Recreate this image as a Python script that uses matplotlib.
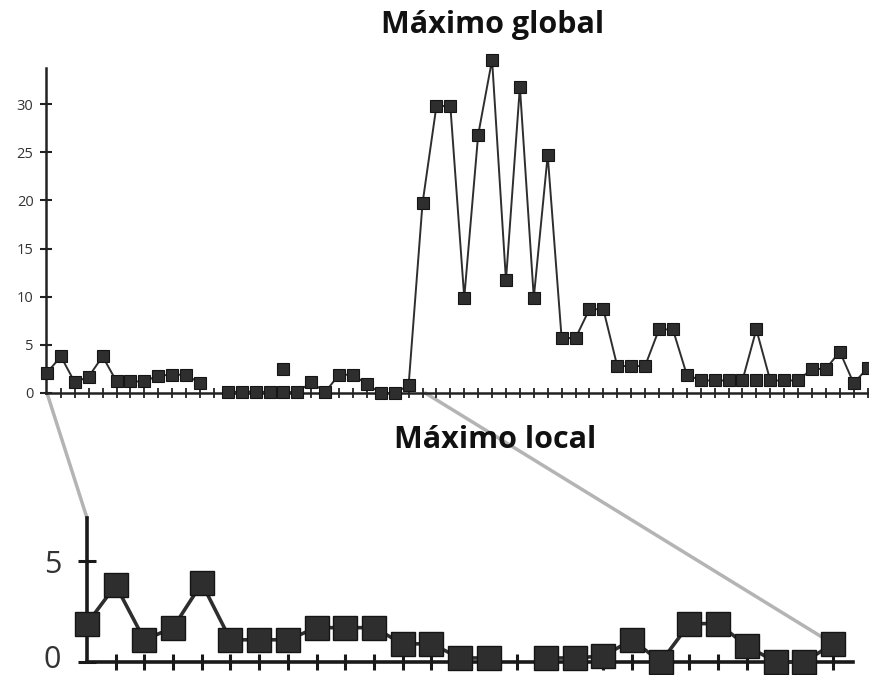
import numpy as np
import matplotlib.pyplot as plt
import matplotlib.transforms as mtransforms
from matplotlib.patches import ConnectionPatch

plt.rcParams['font.family'] = ['Open Sans', 'DejaVu Sans']

# Serie completa (maximo global)
global_vals = [2.1, 3.8, 1.1, 1.7, 3.8, 1.2, 1.2, 1.2, 1.8, 1.9,
               1.9, 1.0, np.nan, 0.1, 0.15, 0.15, 0.1, 0.1, 0.1, 1.1,
               0.1, 1.9, 1.9, 0.9, 0.0, 0.0, 0.8, 19.7, 29.8, 29.8,
               9.9, 26.8, 34.6, 11.7, 31.8, 9.9, 24.7, 5.7, 5.7, 8.7,
               8.7, 2.8, 2.8, 2.8, 6.6, 6.6, 1.9, 1.3, 1.3, 1.3,
               1.3, 6.6, 1.3, 1.3, 1.3, 2.5, 2.5, 4.3, 1.0, 2.6]
# Puntos sueltos (fuera de la linea)
extra_x = [17, 51]
extra_y = [2.5, 1.3]
global_yticks = [0, 5, 10, 15, 20, 25, 30]

# Tramo ampliado (maximo local)
local_vals = [1.9, 3.8, 1.1, 1.7, 3.9, 1.1, 1.1, 1.1, 1.7, 1.7,
              1.7, 0.9, 0.9, 0.2, 0.2, np.nan, 0.2, 0.2, 0.3, 1.1,
              0.0, 1.9, 1.9, 0.8, 0.0, 0.0, 0.9]
local_yticks = [0, 5]

xg = np.arange(len(global_vals))
xl = np.arange(len(local_vals))

W, H = 869, 675
fig = plt.figure(figsize=(W/100, H/100), dpi=100)

col = '#2e2e2e'

#%% Grafico superior
ax1 = fig.add_axes([46/W, 1 - 393/H, (W - 46)/W, (393 - 55)/H])
ax1.set_facecolor('none')
ax1.plot(xg, global_vals, '-', color=col, lw=1.4, clip_on=False, zorder=3)
ax1.plot(xg, global_vals, 's', ms=8.5, mfc=col, mec='#151515', mew=0.8,
         clip_on=False, zorder=4)
ax1.plot(extra_x, extra_y, 's', ms=8.5, mfc=col, mec='#151515', mew=0.8,
         clip_on=False, zorder=4)
ax1.set_xlim(-0.07, 59.1)
ax1.set_ylim(0, 35.1)
for s in ['top', 'right']:
    ax1.spines[s].set_visible(False)
ax1.spines['left'].set_bounds(0, 33.7)
ax1.spines['left'].set_linewidth(1.8)
ax1.spines['bottom'].set_linewidth(1.8)
ax1.spines['left'].set_color('#222222')
ax1.spines['bottom'].set_color('#222222')
ax1.set_yticks(global_yticks)
ax1.set_xticks(xg[1:])
ax1.set_xticklabels([])
ax1.tick_params(axis='y', direction='inout', length=8, width=1.5,
                labelsize=10.5, labelcolor='#333333', pad=5, color='#222222')
ax1.tick_params(axis='x', direction='inout', length=7, width=1.3,
                color='#222222')

#%% Grafico inferior
ax2 = fig.add_axes([87/W, 1 - 662/H, (853 - 87)/W, (662 - 518)/H])
ax2.set_facecolor('none')
ax2.plot(xl, local_vals, '-', color=col, lw=2.6, clip_on=False, zorder=3)
ax2.plot(xl, local_vals, 's', ms=17, mfc=col, mec='#151515', mew=1,
         clip_on=False, zorder=4)
ax2.set_xlim(0, 26.7)
ax2.set_ylim(0, 7.13)
for s in ['top', 'right']:
    ax2.spines[s].set_visible(False)
ax2.spines['left'].set_linewidth(2.6)
ax2.spines['bottom'].set_linewidth(2.6)
ax2.spines['left'].set_color('#1a1a1a')
ax2.spines['bottom'].set_color('#1a1a1a')
ax2.set_yticks(local_yticks)
ax2.set_xticks(xl[1:])
ax2.set_xticklabels([])
ax2.tick_params(axis='y', direction='inout', length=13, width=2.2,
                labelsize=22, labelcolor='#333333', pad=12, color='#1a1a1a')
ax2.tick_params(axis='x', direction='inout', length=11, width=2.2,
                color='#1a1a1a')

# El "0" de abajo va un poco mas arriba para que no se corte
fig.canvas.draw()
lbl0 = ax2.get_yticklabels()[0]
lbl0.set_transform(lbl0.get_transform() +
                   mtransforms.ScaledTranslation(0, 5/100, fig.dpi_scale_trans))

#%% Lineas grises de la ampliacion
gris = '#b4b4b4'
con1 = ConnectionPatch(xyA=(0, 0), coordsA=ax1.transData,
                       xyB=(0, 7.13), coordsB=ax2.transData,
                       color=gris, lw=2.5, zorder=-1)
con2 = ConnectionPatch(xyA=(len(local_vals) + 0.2, 0), coordsA=ax1.transData,
                       xyB=(len(local_vals) - 1, local_vals[-1]), coordsB=ax2.transData,
                       color=gris, lw=2.5, zorder=-1, shrinkB=9)
fig.add_artist(con1)
fig.add_artist(con2)

#%% Titulos
fig.text(493/W, 1 - 25/H, 'Máximo global', ha='center', va='center',
         fontsize=22, fontweight='bold', color='#111111')
fig.text(495/W, 1 - 440/H, 'Máximo local', ha='center', va='center',
         fontsize=22, fontweight='bold', color='#111111')

fig.savefig('out.png', dpi=100, facecolor='white')
